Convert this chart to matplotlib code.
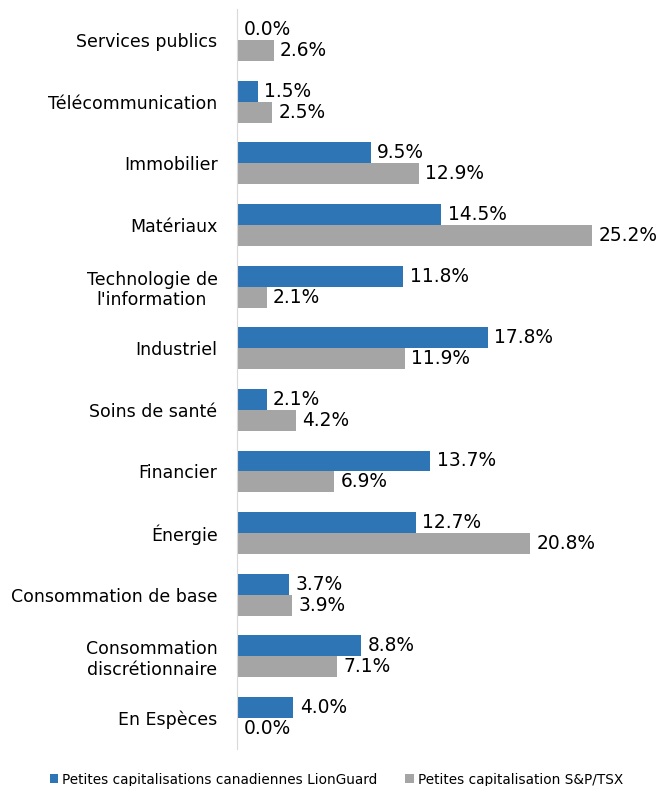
import matplotlib.pyplot as plt
import numpy as np

# data, top to bottom as in the chart
categories = ['Services publics', 'Télécommunication', 'Immobilier', 'Matériaux',
              "Technologie de\nl'information", 'Industriel', 'Soins de santé',
              'Financier', 'Énergie', 'Consommation de base',
              'Consommation\ndiscrétionnaire', 'En Espèces']
lionguard = [0.0, 1.5, 9.5, 14.5, 11.8, 17.8, 2.1, 13.7, 12.7, 3.7, 8.8, 4.0]
sptsx = [2.6, 2.5, 12.9, 25.2, 2.1, 11.9, 4.2, 6.9, 20.8, 3.9, 7.1, 0.0]
series_names = ['Petites capitalisations canadiennes LionGuard',
                'Petites capitalisation S&P/TSX']

blue = '#2E75B6'
grey = '#A5A5A5'
xmax = 30

plt.rcParams['font.family'] = ['DejaVu Sans']

fig = plt.figure(figsize=(6.62, 7.86), dpi=100)
ax = fig.add_axes([237 / 662, 0.0473, 423 / 662, 0.941])

n = len(categories)
y = np.arange(n)[::-1]
h = 0.34

b1 = ax.barh(y + h / 2, lionguard, height=h, color=blue, label=series_names[0])
b2 = ax.barh(y - h / 2, sptsx, height=h, color=grey, label=series_names[1])

pad = 0.45
for yy, v in zip(y, lionguard):
    ax.text(v + pad, yy + h / 2, f'{v:.1f}%', va='center', ha='left',
            fontsize=13.4, clip_on=False)
for yy, v in zip(y, sptsx):
    ax.text(v + pad, yy - h / 2, f'{v:.1f}%', va='center', ha='left',
            fontsize=13.4, clip_on=False)

ax.set_xlim(0, xmax)
ax.set_ylim(-0.5, n - 0.5)
ax.set_yticks(y)
ax.set_yticklabels(categories, fontsize=12.5, multialignment='center')
ax.tick_params(axis='y', length=0, pad=14)
ax.set_xticks([])
for s in ['top', 'right', 'bottom']:
    ax.spines[s].set_visible(False)
ax.spines['left'].set_color('#D9D9D9')

fig.legend(handles=[b1, b2], loc='center', bbox_to_anchor=(0.508, 0.008),
           ncol=2, frameon=False, fontsize=9.8, handlelength=0.65,
           handleheight=0.65, handletextpad=0.3, columnspacing=2.0)

fig.savefig('out.png', dpi=100)
